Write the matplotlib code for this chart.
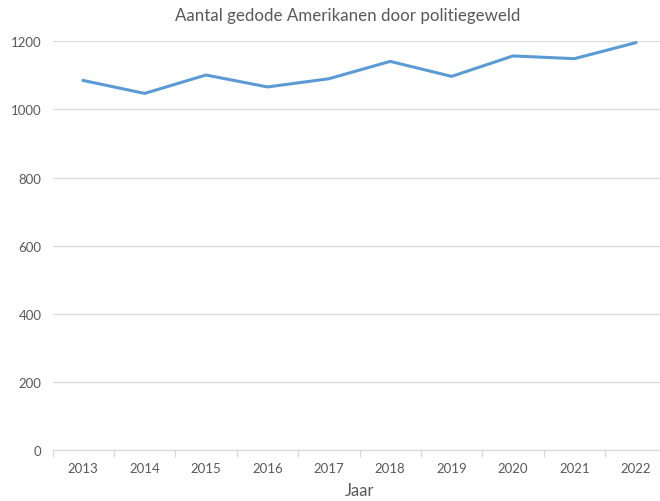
import matplotlib.pyplot as plt
from matplotlib.ticker import FixedLocator

# Data
jaren = ['2013', '2014', '2015', '2016', '2017', '2018', '2019', '2020', '2021', '2022']
gedood = [1085, 1047, 1101, 1066, 1090, 1141, 1097, 1157, 1149, 1196]
y_ticks = [0, 200, 400, 600, 800, 1000, 1200]

plt.rcParams['font.family'] = ['Lato', 'DejaVu Sans']
tekst = '#595959'

fig = plt.figure(figsize=(6.6, 5.02), dpi=100)
ax = fig.add_axes([52.5 / 660, 1 - 451 / 502, 614 / 660, (451 - 42.3) / 502])

x = range(len(jaren))
ax.plot(x, gedood, color='#5B9BD5', linewidth=2.2, solid_joinstyle='round', zorder=3)

ax.set_xlim(-0.5, len(jaren) - 0.5)
ax.set_ylim(0, 1200)
ax.set_yticks(y_ticks)
ax.set_xticks(list(x))
ax.set_xticklabels(jaren)
ax.xaxis.set_minor_locator(FixedLocator([i - 0.5 for i in range(len(jaren) + 1)]))

ax.grid(axis='y', color='#D9D9D9', linewidth=0.9)
ax.set_axisbelow(True)
for s in ['top', 'right', 'left']:
    ax.spines[s].set_visible(False)
ax.spines['bottom'].set_color('#D9D9D9')
ax.spines['bottom'].set_linewidth(0.9)

ax.tick_params(axis='y', length=0, labelsize=9.5, labelcolor=tekst, pad=8)
ax.tick_params(axis='x', which='major', length=0, labelsize=9.5, labelcolor=tekst, pad=9)
ax.tick_params(axis='x', which='minor', length=5, color='#D9D9D9', width=0.9)

fig.text(348 / 660, 1 - 16 / 502, 'Aantal gedode Amerikanen door politiegeweld',
         ha='center', va='center', fontsize=12.2, color=tekst)
fig.text(360 / 660, 1 - 491 / 502, 'Jaar', ha='center', va='center', fontsize=12, color=tekst)

fig.savefig('out.png', dpi=100)
